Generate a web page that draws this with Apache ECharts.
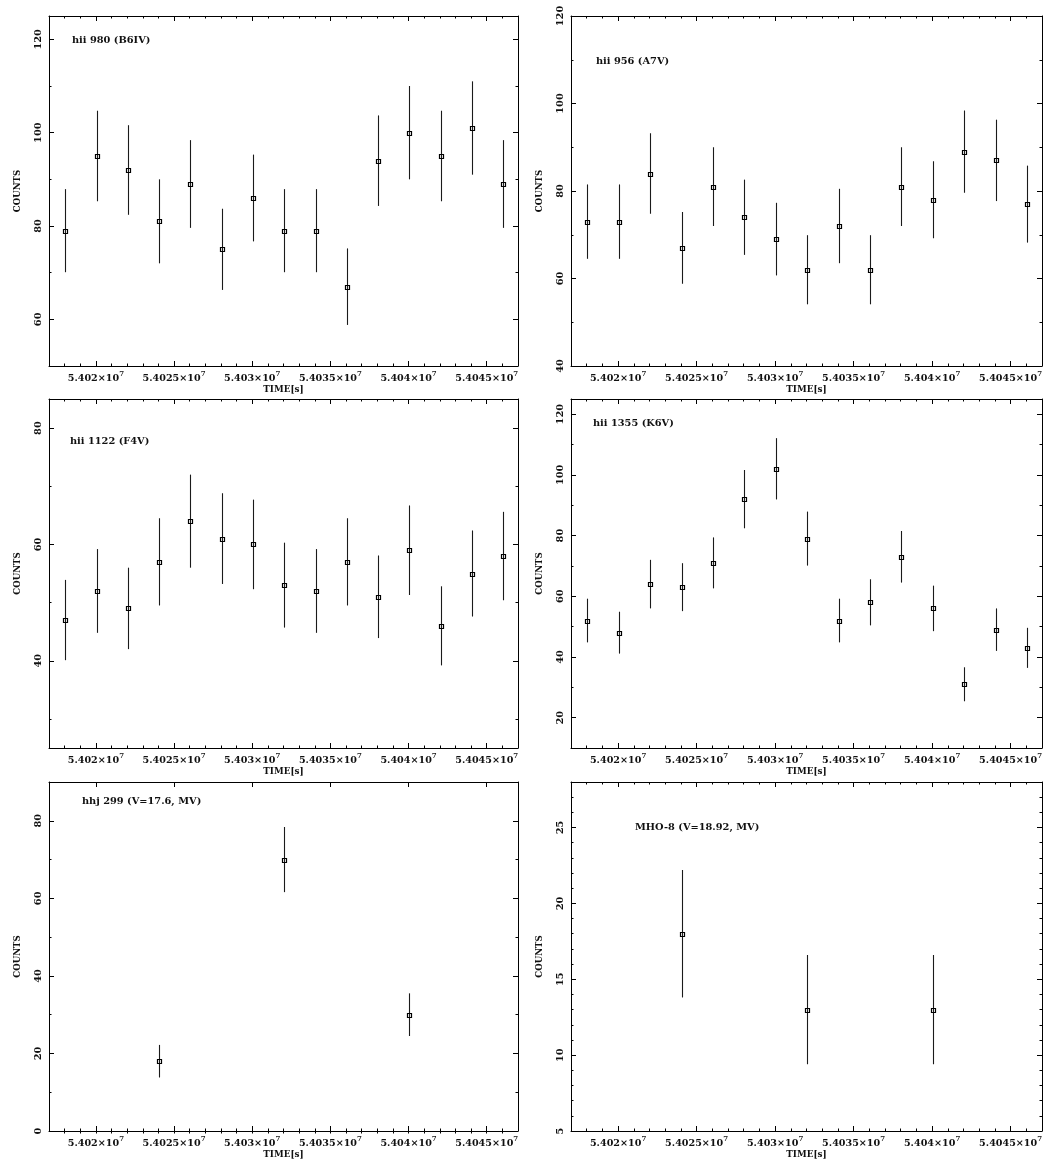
<!DOCTYPE html>
<html>
<head>
<meta charset="utf-8">
<script src="https://cdn.jsdelivr.net/npm/echarts@6/dist/echarts.min.js"></script>
<style>html,body{margin:0;padding:0;background:#fff}#c{width:1049px;height:1163px}</style>
</head>
<body>
<div id="c"></div>
<script>
// ---------------- DATA ----------------
const timesFull = [54018050, 54020050, 54022050, 54024050, 54026050, 54028050, 54030050, 54032050,
                   54034050, 54036050, 54038050, 54040050, 54042050, 54044050, 54046050];
const timesSparse = [54024050, 54032050, 54040050];

const hii980 = [79, 95, 92, 81, 89, 75, 86, 79, 79, 67, 94, 100, 95, 101, 89];
const hii980Err = [8.9, 9.7, 9.6, 9.0, 9.4, 8.7, 9.3, 8.9, 8.9, 8.2, 9.7, 10.0, 9.7, 10.0, 9.4];

const hii956 = [73, 73, 84, 67, 81, 74, 69, 62, 72, 62, 81, 78, 89, 87, 77];
const hii956Err = [8.5, 8.5, 9.2, 8.2, 9.0, 8.6, 8.3, 7.9, 8.5, 7.9, 9.0, 8.8, 9.4, 9.3, 8.8];

const hii1122 = [47, 52, 49, 57, 64, 61, 60, 53, 52, 57, 51, 59, 46, 55, 58];
const hii1122Err = [6.9, 7.2, 7.0, 7.5, 8.0, 7.8, 7.7, 7.3, 7.2, 7.5, 7.1, 7.7, 6.8, 7.4, 7.6];

const hii1355 = [52, 48, 64, 63, 71, 92, 102, 79, 52, 58, 73, 56, 31, 49, 43];
const hii1355Err = [7.2, 6.9, 8.0, 7.9, 8.4, 9.6, 10.1, 8.9, 7.2, 7.6, 8.5, 7.5, 5.6, 7.0, 6.6];

const hhj299 = [18, 70, 30];
const hhj299Err = [4.2, 8.4, 5.5];

const mho8 = [18, 13, 13];
const mho8Err = [4.2, 3.6, 3.6];

const panelNames = ['hii 980 (B6IV)', 'hii 956 (A7V)', 'hii 1122 (F4V)', 'hii 1355 (K6V)',
                    'hhj 299 (V=17.6, MV)', 'MHO-8 (V=18.92, MV)'];

// x tick values and labels (mantissa × 10^7)
const xMajorTicks = [54020000, 54025000, 54030000, 54035000, 54040000, 54045000];
const xTickMantissa = ['5.402', '5.4025', '5.403', '5.4035', '5.404', '5.4045'];
const xMinorTicks = [54018000, 54019000, 54020000, 54021000, 54022000, 54023000, 54024000, 54025000,
                     54026000, 54027000, 54028000, 54029000, 54030000, 54031000, 54032000, 54033000,
                     54034000, 54035000, 54036000, 54037000, 54038000, 54039000, 54040000, 54041000,
                     54042000, 54043000, 54044000, 54045000, 54046000];

// y ticks per panel
const yMajor980 = [60, 80, 100, 120];
const yMinor980 = [60, 70, 80, 90, 100, 110, 120];
const yMajor956 = [40, 60, 80, 100, 120];
const yMinor956 = [50, 70, 90, 110];
const yMajor1122 = [40, 60, 80];
const yMinor1122 = [30, 50, 70];
const yMajor1355 = [20, 40, 60, 80, 100, 120];
const yMinor1355 = [30, 50, 70, 90, 110];
const yMajor299 = [0, 20, 40, 60, 80];
const yMinor299 = [10, 30, 50, 70];
const yMajorMho = [5, 10, 15, 20, 25];
const yMinorMho = [6, 7, 8, 9, 11, 12, 13, 14, 16, 17, 18, 19, 21, 22, 23, 24, 26, 27];

// ---------------- LAYOUT / STYLE ----------------
const FONT = '"DejaVu Serif", serif';
const X_MIN = 54017000, X_MAX = 54047000;
const TXT = '#111';

const panels = [
  {t: timesFull, v: hii980, e: hii980Err, yMin: 50, yMax: 125, yMajor: yMajor980, yMinor: yMinor980,
   grid: {left: 49, top: 16, width: 469, height: 350}, lab: {x: 72, y: 35}},
  {t: timesFull, v: hii956, e: hii956Err, yMin: 40, yMax: 120, yMajor: yMajor956, yMinor: yMinor956,
   grid: {left: 571, top: 16, width: 471, height: 350}, lab: {x: 596, y: 56}},
  {t: timesFull, v: hii1122, e: hii1122Err, yMin: 25, yMax: 85, yMajor: yMajor1122, yMinor: yMinor1122,
   grid: {left: 49, top: 399, width: 469, height: 349}, lab: {x: 70, y: 436}},
  {t: timesFull, v: hii1355, e: hii1355Err, yMin: 10, yMax: 125, yMajor: yMajor1355, yMinor: yMinor1355,
   grid: {left: 571, top: 399, width: 471, height: 349}, lab: {x: 593, y: 418}},
  {t: timesSparse, v: hhj299, e: hhj299Err, yMin: 0, yMax: 90, yMajor: yMajor299, yMinor: yMinor299,
   grid: {left: 49, top: 782, width: 469, height: 349}, lab: {x: 82, y: 796}},
  {t: timesSparse, v: mho8, e: mho8Err, yMin: 5, yMax: 28, yMajor: yMajorMho, yMinor: yMinorMho,
   grid: {left: 571, top: 782, width: 471, height: 349}, lab: {x: 635, y: 822}}
];

const grids = [], xAxes = [], yAxes = [], series = [], titles = [];
const lineStyle = {color: '#000', width: 1};

panels.forEach((p, i) => {
  grids.push(Object.assign({containLabel: false}, p.grid));
  titles.push({text: panelNames[i], left: p.lab.x, top: p.lab.y, padding: 0,
    textStyle: {fontFamily: FONT, fontSize: 9.8, fontWeight: 'bold', color: TXT}});

  const baseX = {type: 'value', gridIndex: i, min: X_MIN, max: X_MAX, splitLine: {show: false}};
  // bottom major
  xAxes.push(Object.assign({}, baseX, {
    position: 'bottom',
    axisLine: {show: true, onZero: false, lineStyle},
    axisTick: {show: true, inside: true, length: 5, customValues: xMajorTicks, lineStyle},
    axisLabel: {show: true, customValues: xMajorTicks, margin: 5, color: TXT,
      formatter: (val) => {
        const k = xMajorTicks.indexOf(val);
        return '{m|' + xTickMantissa[k] + '×10}{e|7}';
      },
      rich: {
        m: {fontFamily: FONT, fontSize: 9.6, fontWeight: 'bold', color: TXT, verticalAlign: 'bottom'},
        e: {fontFamily: FONT, fontSize: 7, fontWeight: 'bold', color: TXT, verticalAlign: 'bottom', padding: [0, 0, 5, 0]}
      }},
    name: 'TIME[s]', nameLocation: 'middle', nameGap: 19,
    nameTextStyle: {fontFamily: FONT, fontSize: 8.8, fontWeight: 'bold', color: TXT}
  }));
  // bottom minor
  xAxes.push(Object.assign({}, baseX, {
    position: 'bottom', axisLine: {show: false},
    axisTick: {show: true, inside: true, length: 2.5, customValues: xMinorTicks, lineStyle},
    axisLabel: {show: false}
  }));
  // top major
  xAxes.push(Object.assign({}, baseX, {
    position: 'top', axisLine: {show: true, onZero: false, lineStyle},
    axisTick: {show: true, inside: true, length: 5, customValues: xMajorTicks, lineStyle},
    axisLabel: {show: false}
  }));
  // top minor
  xAxes.push(Object.assign({}, baseX, {
    position: 'top', axisLine: {show: false},
    axisTick: {show: true, inside: true, length: 2.5, customValues: xMinorTicks, lineStyle},
    axisLabel: {show: false}
  }));

  const baseY = {type: 'value', gridIndex: i, min: p.yMin, max: p.yMax, splitLine: {show: false}};
  yAxes.push(Object.assign({}, baseY, {
    position: 'left',
    axisLine: {show: true, onZero: false, lineStyle},
    axisTick: {show: true, inside: true, length: 5, customValues: p.yMajor, lineStyle},
    axisLabel: {show: true, customValues: p.yMajor, rotate: 90, margin: 6, color: TXT,
      fontFamily: FONT, fontSize: 9.8, fontWeight: 'bold'},
    name: 'COUNTS', nameLocation: 'middle', nameGap: 27,
    nameTextStyle: {fontFamily: FONT, fontSize: 8.6, fontWeight: 'bold', color: TXT}
  }));
  yAxes.push(Object.assign({}, baseY, {
    position: 'left', axisLine: {show: false},
    axisTick: {show: true, inside: true, length: 2.5, customValues: p.yMinor, lineStyle},
    axisLabel: {show: false}
  }));
  yAxes.push(Object.assign({}, baseY, {
    position: 'right', axisLine: {show: true, onZero: false, lineStyle},
    axisTick: {show: true, inside: true, length: 5, customValues: p.yMajor, lineStyle},
    axisLabel: {show: false}
  }));
  yAxes.push(Object.assign({}, baseY, {
    position: 'right', axisLine: {show: false},
    axisTick: {show: true, inside: true, length: 2.5, customValues: p.yMinor, lineStyle},
    axisLabel: {show: false}
  }));

  const data = p.t.map((t, k) => [t, p.v[k], p.e[k]]);
  series.push({
    type: 'custom', xAxisIndex: 4 * i, yAxisIndex: 4 * i, data,
    encode: {x: 0, y: 1},
    silent: true,
    renderItem: (params, api) => {
      const x = api.value(0), y = api.value(1), e = api.value(2);
      const c = api.coord([x, y]);
      const hi = api.coord([x, y + e]);
      const lo = api.coord([x, y - e]);
      const cx = Math.round(c[0]) + 0.5, cy = Math.round(c[1]) + 0.5;
      return {type: 'group', children: [
        {type: 'line', shape: {x1: cx, y1: hi[1], x2: cx, y2: lo[1]},
         style: {stroke: '#1a1a1a', lineWidth: 1.1}},
        {type: 'rect', shape: {x: cx - 2, y: cy - 2, width: 4, height: 4},
         style: {stroke: '#000', fill: 'rgba(0,0,0,0)', lineWidth: 1.2}}
      ]};
    }
  });
});

const chart = echarts.init(document.getElementById('c'), null, {renderer: 'canvas'});
chart.setOption({
  backgroundColor: '#fff',
  animation: false,
  title: titles,
  grid: grids,
  xAxis: xAxes,
  yAxis: yAxes,
  series
});
</script>
</body>
</html>
